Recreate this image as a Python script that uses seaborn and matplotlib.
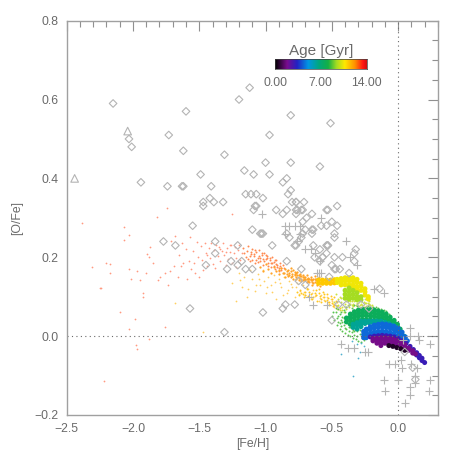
import matplotlib
matplotlib.use("Agg")
import matplotlib.pyplot as plt
import numpy as np
import pandas as pd
import seaborn as sns
from matplotlib.colors import LinearSegmentedColormap
from matplotlib.ticker import MultipleLocator, FixedLocator

diamond_x = [-2.15, -2.03, -2.01, -1.94, -1.74, -1.63, -1.62, -1.60, -1.73, -1.62, -1.49, -1.41, -1.31, -1.20,
             -1.12, -1.16, -1.09, -1.15, -1.11, -1.07, -1.42, -1.47, -1.39, -1.32, -1.47, -1.08, -1.77, -1.68,
             -1.55, -1.38, -1.38, -1.45, -1.26, -1.29, -1.21, -1.21, -1.18, -1.15, -1.10, -1.10, -1.04, -1.09,
             -1.57, -1.31, -0.81, -0.51, -0.97, -1.00, -0.81, -0.59, -0.97, -0.84, -0.87, -0.81, -0.83, -1.02,
             -0.71, -0.80, -0.77, -0.77, -0.46, -0.53, -0.92, -1.07, -0.77, -0.73, -0.87, -0.84, -0.76, -0.72,
             -0.77, -0.69, -0.65, -0.72, -0.58, -0.54, -1.03, -1.02, -0.84, -0.82, -0.65, -0.64, -0.65, -0.70,
             -0.72, -0.73, -0.75, -0.78, -0.77, -0.54, -0.53, -0.95, -0.64, -0.59, -0.63, -0.57, -0.54, -0.59,
             -0.84, -0.73, -0.75, -0.70, -1.02, -0.85, -0.87, -0.78, -0.46, -0.50, -0.54, -0.48, -0.48, -0.53,
             -0.32, -0.33, -0.48, -0.42, -0.33, -0.57, -0.50, -0.47, -0.44, -0.37, -0.52, -0.14, -0.50, -0.28,
             -0.39, -0.45, -0.22, 0.13, 0.11, 0.05, -0.48]
diamond_y = [0.59, 0.50, 0.48, 0.39, 0.38, 0.38, 0.38, 0.57, 0.51, 0.47, 0.41, 0.38, 0.46, 0.60,
             0.63, 0.42, 0.41, 0.36, 0.36, 0.36, 0.35, 0.34, 0.34, 0.34, 0.33, 0.33, 0.24, 0.23,
             0.28, 0.24, 0.21, 0.18, 0.19, 0.17, 0.23, 0.18, 0.19, 0.17, 0.17, 0.27, 0.26, 0.32,
             0.07, 0.01, 0.56, 0.54, 0.51, 0.44, 0.44, 0.43, 0.41, 0.40, 0.39, 0.37, 0.36, 0.35,
             0.34, 0.34, 0.34, 0.34, 0.33, 0.32, 0.32, 0.33, 0.32, 0.32, 0.31, 0.32, 0.32, 0.32,
             0.31, 0.30, 0.31, 0.29, 0.28, 0.32, 0.26, 0.26, 0.26, 0.25, 0.27, 0.27, 0.26, 0.27,
             0.26, 0.25, 0.24, 0.23, 0.23, 0.23, 0.23, 0.23, 0.23, 0.22, 0.20, 0.20, 0.21, 0.19,
             0.19, 0.17, 0.14, 0.13, 0.06, 0.08, 0.07, 0.08, 0.28, 0.29, 0.28, 0.26, 0.25, 0.23,
             0.22, 0.21, 0.20, 0.20, 0.19, 0.20, 0.18, 0.17, 0.17, 0.16, 0.15, 0.12, 0.04, 0.08,
             0.08, 0.08, 0.07, -0.11, -0.08, -0.04, 0.17]

triangle_x = [-2.44, -2.04]
triangle_y = [0.40, 0.52]

plus_x = [-1.03, -0.58, -0.85, -0.82, -0.78, -0.74, -0.85, -0.74, -0.76, -0.70, -0.39, -0.66, -0.63, -0.59, -0.31,
          -0.36, -0.61, -0.58, -0.18, -0.11, -0.67, -0.64, -0.54, -0.43, -0.38, -0.33, -0.25, -0.23, 0.09, 0.09,
          0.15, 0.16, 0.24, 0.04, 0.02, -0.07, -0.02, 0.03, 0.10, 0.14, -0.11, 0.00, 0.13, 0.24, 0.13, 0.09,
          -0.10, 0.23, 0.09, 0.05, -0.60]
plus_y = [0.31, 0.30, 0.28, 0.28, 0.28, 0.28, 0.26, 0.26, 0.24, 0.22, 0.24, 0.22, 0.21, 0.19, 0.18,
          0.20, 0.16, 0.16, 0.12, 0.11, 0.10, 0.08, 0.08, -0.02, -0.03, -0.03, -0.04, -0.04, 0.02, 0.00,
          0.00, -0.01, -0.02, -0.01, -0.06, -0.07, -0.07, -0.08, -0.07, -0.08, -0.11, -0.11, -0.10, -0.11, -0.12, -0.13,
          -0.14, -0.14, -0.15, -0.17, 0.16]

# model stars: dense part as (feh, [ofe...]) columns per age, oldest drawn first
orange_rows = [(-0.60, [0.142, 0.134]), (-0.57, [0.142, 0.134]),
               (-0.54, [0.142, 0.134]), (-0.51, [0.142, 0.134]), (-0.48, [0.143, 0.135])]
yellow_rows = [(-0.46, [0.144, 0.136]), (-0.43, [0.146, 0.138, 0.130]), (-0.40, [0.148, 0.140, 0.130]),
               (-0.37, [0.148, 0.140, 0.130]), (-0.34, [0.148, 0.140, 0.130, 0.122]),
               (-0.31, [0.144, 0.136, 0.126, 0.118]), (-0.28, [0.134, 0.126, 0.116]), (-0.25, [0.120, 0.112, 0.104]),
               (-0.225, [0.100, 0.094])]
lime_rows = [(-0.40, [0.116, 0.106, 0.096]), (-0.37, [0.122, 0.112, 0.102, 0.094]),
             (-0.34, [0.116, 0.106, 0.096]), (-0.31, [0.110, 0.100, 0.092]), (-0.28, [0.100, 0.092])]
green_rows = [(-0.39, [0.046, 0.036]), (-0.36, [0.056, 0.048, 0.040, 0.030]),
              (-0.33, [0.062, 0.054, 0.046, 0.036]), (-0.30, [0.066, 0.058, 0.050, 0.040]),
              (-0.27, [0.068, 0.060, 0.052, 0.042]), (-0.24, [0.068, 0.060, 0.052, 0.042]),
              (-0.21, [0.067, 0.060, 0.051, 0.041]), (-0.18, [0.066, 0.058, 0.050, 0.040]),
              (-0.15, [0.064, 0.056, 0.048, 0.040]), (-0.12, [0.061, 0.053, 0.045]), (-0.09, [0.056, 0.048, 0.040]),
              (-0.06, [0.048, 0.040, 0.034]), (-0.03, [0.040, 0.034]), (-0.005, [0.030, 0.024]), (0.015, [0.018])]
teal_rows = [(-0.34, [0.030, 0.022]), (-0.31, [0.034, 0.028, 0.018]), (-0.28, [0.038, 0.032, 0.024]),
             (-0.25, [0.038, 0.032]), (-0.22, [0.038, 0.034]), (-0.19, [0.038, 0.034]), (-0.16, [0.038, 0.035]),
             (-0.13, [0.038, 0.035]), (-0.10, [0.035, 0.032]), (-0.07, [0.032, 0.029]), (-0.04, [0.028, 0.024]),
             (-0.01, [0.022, 0.016]), (0.02, [0.010, 0.004]), (0.045, [0.000])]
blue_rows = [(-0.26, [0.012, 0.004, -0.004]), (-0.24, [0.018, 0.010, 0.002, -0.004]),
             (-0.21, [0.024, 0.016, 0.006, 0.000]), (-0.18, [0.028, 0.020, 0.010, 0.004]),
             (-0.15, [0.030, 0.022, 0.012, 0.006]), (-0.12, [0.031, 0.023, 0.013, 0.006]),
             (-0.09, [0.030, 0.022, 0.012, 0.005]), (-0.06, [0.028, 0.020, 0.010, 0.004]),
             (-0.03, [0.025, 0.017, 0.007, 0.000]), (0.00, [0.020, 0.012, 0.002, -0.004]),
             (0.03, [0.010, 0.002, -0.006, -0.012]), (0.055, [-0.002, -0.010, -0.018]), (0.07, [-0.012])]
indigo_rows = [(-0.21, [-0.002]), (-0.18, [0.000]), (-0.15, [0.001]), (-0.12, [0.002]), (-0.09, [0.001]),
               (-0.06, [0.000]), (-0.03, [-0.002]), (0.00, [-0.006]), (0.03, [-0.012]), (0.06, [-0.018]),
               (0.09, [-0.026]), (0.115, [-0.034]), (0.14, [-0.042, -0.048]), (0.16, [-0.049, -0.055]),
               (0.18, [-0.056, -0.062]), (0.20, [-0.067])]
purple_rows = [(-0.19, [-0.006, -0.012]), (-0.16, [-0.005, -0.011, -0.018]),
               (-0.13, [-0.004, -0.010, -0.018, -0.024]), (-0.10, [-0.004, -0.010, -0.018]),
               (-0.07, [-0.005, -0.012, -0.018]), (-0.04, [-0.007, -0.014, -0.020]), (-0.01, [-0.010, -0.017, -0.023]),
               (0.02, [-0.015, -0.022]), (0.05, [-0.022, -0.028]), (0.08, [-0.030, -0.036]),
               (0.11, [-0.037, -0.043]), (0.13, [-0.045])]
black_rows = [(-0.07, [-0.024]), (-0.04, [-0.026]), (-0.01, [-0.029]), (0.02, [-0.032]), (0.05, [-0.036])]

dense_ages = [11.2, 10.4, 9.4, 7.6, 6.3, 4.4, 3.0, 1.8, 0.5]
dense_rows = [orange_rows, yellow_rows, lime_rows, green_rows, teal_rows, blue_rows, indigo_rows, purple_rows,
              black_rows]

# sparse outskirts, single small dots
pink_x = [-2.386, -2.065, -2.03, -2.07, -2.306, -2.20, -2.17, -2.17, -2.25, -2.24, -2.10, -1.984, -2.03, -1.977,
          -1.97, -2.215, -1.758, -1.876, -2.03, -2.017, -1.967, -1.947, -1.90, -1.926, -1.926, -1.896, -1.88,
          -1.87, -1.816, -1.746, -1.846, -1.808, -1.796, -1.738, -1.758, -1.72, -1.71, -1.69, -1.68, -1.66, -1.65,
          -1.64, -1.63, -1.62, -1.60, -1.59, -1.58, -1.57, -1.56, -1.55, -1.54, -1.53, -1.52, -1.51, -1.50, -1.49,
          -1.48, -1.47, -1.46, -1.45, -1.44, -1.43, -1.42, -1.41, -1.40, -1.39, -1.37, -1.36, -1.35, -1.34, -1.33,
          -1.32, -1.31, -1.30, -1.29, -1.28, -1.27, -1.26, -1.25, -1.24, -1.23, -1.22, -1.21, -1.20, -1.19, -1.18,
          -1.256, -1.44, -1.38, -1.30, -1.22, -1.34, -1.27]
pink_y = [0.286, 0.276, 0.256, 0.245, 0.176, 0.186, 0.184, 0.159, 0.121, 0.123, 0.060, 0.043, 0.018, -0.023,
          -0.033, -0.115, 0.024, -0.008, 0.170, 0.144, 0.165, 0.142, 0.159, 0.109, 0.099, 0.208, 0.200,
          0.227, 0.303, 0.326, 0.185, 0.142, 0.151, 0.130, 0.159, 0.165, 0.240, 0.178, 0.255, 0.150, 0.205,
          0.178, 0.235, 0.186, 0.220, 0.145, 0.190, 0.252, 0.170, 0.215, 0.185, 0.160, 0.238, 0.200, 0.150, 0.228,
          0.192, 0.168, 0.236, 0.210, 0.178, 0.224, 0.198, 0.236, 0.184, 0.218, 0.232, 0.204, 0.226, 0.190, 0.216,
          0.236, 0.206, 0.180, 0.224, 0.196, 0.214, 0.232, 0.186, 0.210, 0.226, 0.198, 0.218, 0.230, 0.192, 0.212,
          0.310, 0.205, 0.172, 0.214, 0.176, 0.222, 0.230]
salmon_x = [-1.17, -1.15, -1.14, -1.13, -1.12, -1.11, -1.10, -1.09, -1.08, -1.07, -1.06, -1.05, -1.04, -1.03, -1.02,
            -1.01, -1.00, -0.99, -0.98, -0.97, -0.96, -0.95, -0.94, -0.93, -0.92, -0.91, -0.90, -0.89, -0.88, -0.87,
            -1.16, -1.13, -1.11, -1.09, -1.07, -1.05, -1.03, -1.01, -0.99, -0.97, -0.95, -0.93, -0.91, -0.89,
            -1.12, -1.08, -1.04, -1.00, -0.96, -0.92, -0.88, -1.10, -1.06, -1.02, -0.98, -0.94, -0.90, -0.86]
salmon_y = [0.224, 0.200, 0.216, 0.228, 0.190, 0.208, 0.222, 0.202, 0.186, 0.214, 0.198, 0.218, 0.190, 0.206, 0.180,
            0.212, 0.196, 0.204, 0.186, 0.198, 0.176, 0.200, 0.188, 0.170, 0.194, 0.180, 0.166, 0.186, 0.172, 0.180,
            0.210, 0.196, 0.214, 0.208, 0.192, 0.204, 0.212, 0.190, 0.198, 0.192, 0.186, 0.192, 0.176, 0.178,
            0.204, 0.218, 0.198, 0.206, 0.186, 0.184, 0.168, 0.194, 0.188, 0.196, 0.178, 0.178, 0.172, 0.172]
orange_x = [-1.04, -1.02, -1.00, -0.98, -0.96, -0.94, -0.92, -0.90, -0.88, -0.86, -0.85, -0.84, -0.83, -0.82, -0.81,
            -0.80, -0.79, -0.78, -0.77, -0.76, -0.75, -0.74, -0.73, -0.72, -0.71, -0.70, -0.69, -0.68, -0.67, -0.66,
            -0.65, -0.64, -0.63, -0.62, -0.61, -0.60, -0.59, -0.90, -0.87, -0.84, -0.82, -0.80, -0.78, -0.76, -0.74,
            -0.72, -0.70, -0.68, -0.66, -0.64, -0.62, -0.85, -0.83, -0.81, -0.79, -0.77, -0.75, -0.73, -0.71, -0.69,
            -0.67, -0.65, -0.63, -0.78, -0.75, -0.72, -0.69, -0.66, -0.63, -0.81, -0.77, -0.73, -0.70, -0.68, -0.65]
orange_y = [0.176, 0.166, 0.182, 0.170, 0.160, 0.176, 0.166, 0.158, 0.172, 0.160, 0.170, 0.158, 0.168, 0.156, 0.164,
            0.152, 0.168, 0.158, 0.150, 0.162, 0.148, 0.158, 0.146, 0.156, 0.150, 0.142, 0.154, 0.146, 0.138, 0.150,
            0.142, 0.134, 0.152, 0.142, 0.130, 0.150, 0.126, 0.168, 0.160, 0.164, 0.160, 0.158, 0.154, 0.156, 0.152,
            0.150, 0.150, 0.148, 0.146, 0.146, 0.146, 0.150, 0.152, 0.150, 0.146, 0.144, 0.154, 0.152, 0.144, 0.144,
            0.144, 0.136, 0.136, 0.162, 0.142, 0.142, 0.138, 0.142, 0.144, 0.172, 0.160, 0.140, 0.146, 0.140, 0.130]
pale_x = [-1.47, -1.68, -1.25, -1.22, -1.20, -1.18, -1.16, -1.14, -1.12, -1.10, -1.08, -1.06, -1.04, -1.02,
          -1.00, -0.98, -0.96, -0.94, -0.92, -0.90, -0.88, -0.86, -0.84, -0.82, -0.80, -0.78, -0.76, -0.74,
          -0.72, -0.70, -0.68, -0.66, -0.64, -0.62, -0.60, -0.58, -0.56, -0.54, -0.52, -0.50, -0.48, -0.46,
          -1.19, -1.13, -1.07, -1.01, -0.95, -0.89, -0.83, -0.77, -0.71, -0.65, -0.59, -0.53, -0.49,
          -1.05, -0.99, -0.93, -0.87, -0.81, -0.75, -0.69, -0.63, -0.57, -0.51, -0.47]
pale_y = [0.010, 0.085, 0.135, 0.090, 0.160, 0.125, 0.150, 0.100, 0.168, 0.145, 0.115, 0.158, 0.130, 0.168,
          0.110, 0.150, 0.130, 0.155, 0.095, 0.145, 0.125, 0.150, 0.110, 0.140, 0.125, 0.100, 0.135, 0.115,
          0.130, 0.105, 0.120, 0.095, 0.118, 0.105, 0.088, 0.105, 0.092, 0.100, 0.082, 0.090, 0.075, 0.070,
          0.142, 0.120, 0.130, 0.140, 0.112, 0.135, 0.118, 0.124, 0.112, 0.110, 0.096, 0.086, 0.082,
          0.145, 0.125, 0.138, 0.105, 0.132, 0.108, 0.122, 0.102, 0.098, 0.094, 0.078]
strand_x = [-0.76, -0.74, -0.72, -0.70, -0.68, -0.66, -0.64, -0.62, -0.60, -0.58, -0.56, -0.54, -0.52, -0.50, -0.48,
            -0.46, -0.75, -0.73, -0.71, -0.69, -0.67, -0.65, -0.63, -0.61, -0.59, -0.57, -0.55, -0.53, -0.51, -0.49,
            -0.47, -0.70, -0.66, -0.62, -0.58, -0.54, -0.50, -0.60, -0.56, -0.52, -0.48, -0.46, -0.44]
strand_y = [0.112, 0.118, 0.106, 0.112, 0.102, 0.108, 0.098, 0.104, 0.110, 0.094, 0.100, 0.106, 0.086, 0.094, 0.080,
            0.086, 0.104, 0.110, 0.098, 0.120, 0.112, 0.094, 0.110, 0.090, 0.102, 0.112, 0.088, 0.096, 0.102, 0.076,
            0.090, 0.104, 0.100, 0.116, 0.086, 0.092, 0.084, 0.120, 0.106, 0.078, 0.098, 0.076, 0.072]
lime_dot_x = [-0.48, -0.46, -0.45, -0.44, -0.43, -0.42, -0.41, -0.40, -0.39, -0.38, -0.37, -0.36, -0.35, -0.34, -0.33,
              -0.32, -0.31, -0.30, -0.29, -0.28, -0.27, -0.26, -0.25, -0.24, -0.23, -0.22, -0.21, -0.20, -0.47, -0.44,
              -0.42, -0.40, -0.38, -0.36, -0.34, -0.32, -0.30, -0.28, -0.26, -0.24, -0.22, -0.20, -0.45, -0.43, -0.39,
              -0.35, -0.31, -0.27, -0.25, -0.23]
lime_dot_y = [0.086, 0.076, 0.094, 0.066, 0.086, 0.074, 0.060, 0.082, 0.068, 0.088, 0.074, 0.082, 0.090, 0.076, 0.088,
              0.080, 0.092, 0.084, 0.078, 0.090, 0.080, 0.074, 0.094, 0.084, 0.076, 0.088, 0.080, 0.078, 0.106, 0.100,
              0.066, 0.074, 0.080, 0.090, 0.082, 0.092, 0.076, 0.082, 0.086, 0.076, 0.082, 0.074, 0.078, 0.096, 0.090,
              0.078, 0.084, 0.074, 0.084, 0.084]
lightgreen_x = [-0.50, -0.48, -0.47, -0.46, -0.45, -0.44, -0.43, -0.42, -0.41, -0.40, -0.39, -0.38, -0.37, -0.36,
                -0.35, -0.34, -0.33, -0.32, -0.31, -0.30, -0.29, -0.28, -0.27, -0.26, -0.49, -0.47, -0.45, -0.43,
                -0.41, -0.39, -0.37, -0.35, -0.33, -0.31, -0.46, -0.44, -0.42, -0.40, -0.38, -0.36, -0.34, -0.45,
                -0.43, -0.41, -0.44, -0.42, -0.40, -0.38, -0.37, -0.35, -0.33, -0.31, -0.29, -0.27, -0.25, -0.23,
                -0.21, -0.19, -0.17, -0.15, -0.13, -0.11, -0.09, -0.07]
lightgreen_y = [0.052, 0.040, 0.062, 0.028, 0.050, 0.018, 0.040, 0.012, 0.028, 0.008, 0.018, 0.002, 0.012, 0.000,
                0.010, -0.006, 0.004, -0.008, 0.000, -0.012, 0.005, -0.016, -0.004, -0.010, 0.060, 0.072, 0.068,
                0.062, 0.066, 0.074, 0.080, 0.072, 0.078, 0.076, 0.045, 0.034, 0.048, 0.020, 0.030, 0.022, 0.016,
                0.036, 0.026, 0.046, 0.056, 0.036, 0.062, 0.050, 0.024, 0.022, 0.014, 0.012, 0.016, 0.010, 0.014,
                0.076, 0.075, 0.074, 0.074, 0.072, 0.070, 0.066, 0.064, 0.056]
blue_dot_x = [-0.43, -0.34, -0.30, -0.29, -0.31, -0.33, -0.35, -0.28, -0.26]
blue_dot_y = [-0.045, -0.100, -0.055, -0.040, -0.020, -0.030, -0.012, -0.018, -0.026]

age_ticks = [0, 7, 14]
age_labels = ["0.00", "7.00", "14.00"]
rainbow = LinearSegmentedColormap.from_list("age", [
    (0.00, "#000000"), (0.13, "#7a0c8e"), (0.24, "#2222c4"), (0.36, "#0096e4"), (0.48, "#00a87c"),
    (0.58, "#14b044"), (0.67, "#a4dc22"), (0.76, "#ffe800"), (0.87, "#ff9000"), (0.96, "#ff1414"),
    (1.00, "#d01010")])

INK = "#6a6a6a"
MARK = "#b4b4b4"

sns.set_style("white")
plt.rcParams["font.family"] = ["Liberation Sans", "DejaVu Sans"]

rows = []
for age, band in zip(dense_ages, dense_rows):
    for feh, ofes in band:
        for ofe in ofes:
            rows.append((feh, ofe, age))
dense = pd.DataFrame(rows, columns=["feh", "ofe", "age"])

fig = plt.figure(figsize=(4.58, 4.58), dpi=100)
ax = fig.add_axes([0.1456, 0.0939, 0.8105, 0.861])

sns.scatterplot(x=pink_x, y=pink_y, color="#ff9a80", s=1.6, linewidth=0, ax=ax, legend=False)
sns.scatterplot(x=salmon_x, y=salmon_y, color="#ff8a50", s=2.0, linewidth=0, ax=ax, legend=False)
sns.scatterplot(x=pale_x, y=pale_y, color="#ffd060", s=1.6, linewidth=0, ax=ax, legend=False)
sns.scatterplot(x=orange_x, y=orange_y, color="#ffa428", s=2.6, linewidth=0, ax=ax, legend=False)
sns.scatterplot(x=strand_x, y=strand_y, color="#ffc820", s=2.0, linewidth=0, ax=ax, legend=False)
sns.scatterplot(x=lime_dot_x, y=lime_dot_y, color="#cfe23c", s=2.0, linewidth=0, ax=ax, legend=False)
sns.scatterplot(x=lightgreen_x, y=lightgreen_y, color="#5cc450", s=2.0, linewidth=0, ax=ax, legend=False)
sns.scatterplot(x=blue_dot_x, y=blue_dot_y, color="#50b0d0", s=1.6, linewidth=0, ax=ax, legend=False)
sns.scatterplot(data=dense, x="feh", y="ofe", hue="age", palette=rainbow, hue_norm=(0, 14), s=13, linewidth=0,
                ax=ax, legend=False)

ax.axhline(0, color=INK, lw=0.8, ls=(0, (1, 3)), zorder=1)
ax.axvline(0, color=INK, lw=0.8, ls=(0, (1, 3)), zorder=1)

sns.scatterplot(x=diamond_x, y=diamond_y, marker="D", s=15, facecolor="none", edgecolor=MARK, linewidth=0.8, ax=ax,
                legend=False)
sns.scatterplot(x=triangle_x, y=triangle_y, marker="^", s=30, facecolor="none", edgecolor=MARK, linewidth=0.8, ax=ax,
                legend=False)
sns.scatterplot(x=plus_x, y=plus_y, marker="+", s=34, color=MARK, linewidth=0.8, ax=ax, legend=False)

ax.set_xlim(-2.5, 0.3)
ax.set_ylim(-0.2, 0.8)
ax.xaxis.set_major_locator(FixedLocator([-2.5, -2.0, -1.5, -1.0, -0.5, 0.0]))
ax.xaxis.set_minor_locator(MultipleLocator(0.1))
ax.yaxis.set_major_locator(MultipleLocator(0.2))
ax.yaxis.set_minor_locator(MultipleLocator(0.05))
ax.tick_params(which="major", direction="in", length=7, width=0.8, color="#909090", top=True, right=True,
               labelsize=8.8, labelcolor=INK, pad=6)
ax.tick_params(which="minor", direction="in", length=4, width=0.8, color="#909090", top=True, right=True)
for side in ax.spines.values():
    side.set_color("#a0a0a0")
    side.set_linewidth(1.0)
ax.set_xlabel("[Fe/H]", fontsize=8.8, color=INK, labelpad=2)
ax.set_ylabel("[O/Fe]", fontsize=8.8, color=INK, labelpad=8)

# age colour bar
cax = fig.add_axes([275 / 458, 1 - 68.7 / 458, 91.7 / 458, 9.7 / 458])
gradient = np.linspace(0, 14, 256).reshape(1, -1)
cax.imshow(gradient, cmap=rainbow, aspect="auto", extent=(0, 14, 0, 1), vmin=0, vmax=14)
cax.set_yticks([])
cax.set_xticks(age_ticks)
cax.set_xticklabels(age_labels, fontsize=8.8, color=INK)
cax.tick_params(length=0, pad=6)
for side in cax.spines.values():
    side.set_color("#404040")
    side.set_linewidth(0.5)
cax.set_title("Age [Gyr]", fontsize=11, color=INK, pad=3)

fig.savefig("out.png", dpi=100)
